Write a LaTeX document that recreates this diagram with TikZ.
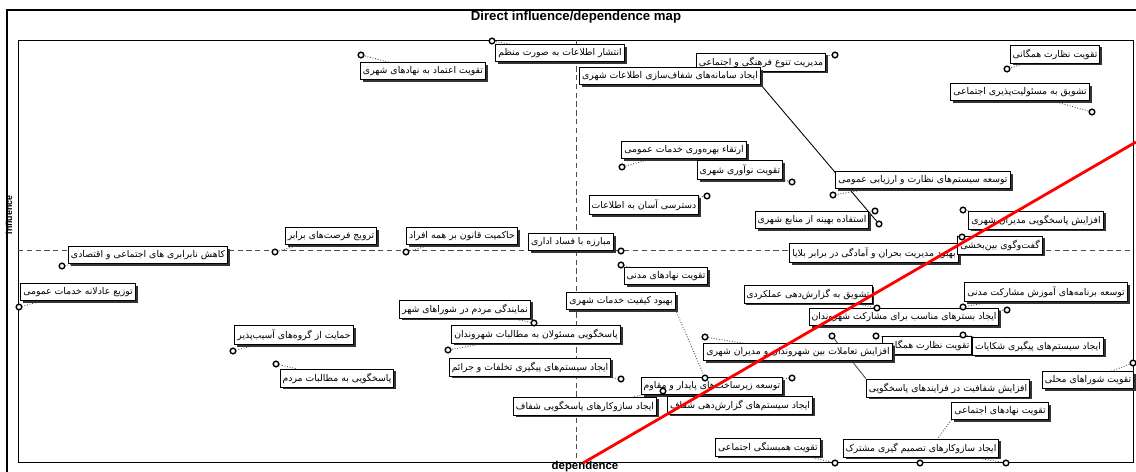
\documentclass[tikz,border=0pt]{standalone}
\usepackage{fontspec}
\setmainfont{Liberation Sans}
\newfontfamily\farsi[Script=Arabic]{DejaVu Sans}
\TeXXeTstate=1
\usetikzlibrary{shadows, backgrounds}

\tikzset{
  item/.style={draw, fill=white, line width=0.55pt, inner xsep=1.4pt, inner ysep=2.1pt,
    font=\farsi\fontsize{5.3}{6}\selectfont,
    drop shadow={shadow xshift=1.4pt, shadow yshift=-1.4pt, fill=black!80, opacity=1},
    execute at begin node=\beginR, execute at end node=\endR},
  pt/.style={circle, draw, line width=0.8pt, fill=white, inner sep=0pt, minimum size=3.2pt},
  link/.style={gray!60!black, densely dotted, line width=0.5pt},
  axis/.style={densely dashed, line width=0.35pt, gray!60!black},
  diag/.style={red, line width=1.6pt}
}

\begin{document}
\begin{tikzpicture}[x=0.02cm, y=-0.02cm]
\useasboundingbox (0,0) rectangle (1136,472);

% frame and axes
\draw[line width=1.2pt] (7,472) -- (7,10) -- (1136,10);
\draw[line width=0.5pt] (18,40) rectangle (1133,462);
\draw[axis] (576,40) -- (576,462);
\draw[axis] (18,250) -- (1133,250);

\node[font=\bfseries\fontsize{7.5}{9}\selectfont] (title) at (576,17) {Direct influence/dependence map};
\node[font=\bfseries\fontsize{6.5}{8}\selectfont] (xlab) at (585,467) {dependence};
\node[rotate=90, font=\bfseries\fontsize{5}{6}\selectfont] (ylab) at (9,215) {influence};

% variables
\node[item] (b1) at (560,53) {انتشار اطلاعات به صورت منظم};
\node[item] (b2) at (423,71) {تقویت اعتماد به نهادهای شهری};
\node[item] (b3) at (761,62) {مدیریت تنوع فرهنگی و اجتماعی};
\node[item] (b4) at (670,76) {ایجاد سامانه^^^^200cهای شفاف^^^^200cسازی اطلاعات شهری};
\node[item] (b5) at (1055,54) {تقویت نظارت همگانی};
\node[item] (b6) at (1020,92) {تشویق به مسئولیت^^^^200cپذیری اجتماعی};
\node[item] (b7) at (684,150) {ارتقاء بهره^^^^200cوری خدمات عمومی};
\node[item] (b8) at (740,170) {تقویت نوآوری شهری};
\node[item] (b9) at (644,205) {دسترسی آسان به اطلاعات};
\node[item] (b10) at (923,180) {توسعه سیستم^^^^200cهای نظارت و ارزیابی عمومی};
\node[item] (b11) at (812,220) {استفاده بهینه از منابع شهری};
\node[item] (b12) at (1036,220) {افزایش پاسخگویی مدیران شهری};
\node[item] (b14) at (874,253) {بهبود مدیریت بحران و آمادگی در برابر بلایا};
\node[item] (b13) at (1000,245) {گفت^^^^200cوگوی بین^^^^200cبخشی};
\node[item] (b15) at (462,236) {حاکمیت قانون بر همه افراد};
\node[item] (b16) at (571,242) {مبارزه با فساد اداری};
\node[item] (b17) at (331,236) {ترویج فرصت^^^^200cهای برابر};
\node[item] (b18) at (148,255) {کاهش نابرابری های اجتماعی و اقتصادی};
\node[item] (b19) at (78,292) {توزیع عادلانه خدمات عمومی};
\node[item] (b20) at (666,276) {تقویت نهادهای مدنی};
\node[item] (b21) at (621,301) {بهبود کیفیت خدمات شهری};
\node[item] (b22) at (465,309) {نمایندگی مردم در شوراهای شهر};
\node[item] (b23) at (536,334) {پاسخگویی مسئولان به مطالبات شهروندان};
\node[item] (b24) at (530,367) {ایجاد سیستم^^^^200cهای پیگیری تخلفات و جرائم};
\node[item] (b25) at (712,386) {توسعه زیرساخت^^^^200cهای پایدار و مقاوم};
\node[item] (b26) at (740,405) {ایجاد سیستم^^^^200cهای گزارش^^^^200cدهی شفاف};
\node[item] (b27) at (585,406) {ایجاد سازوکارهای پاسخگویی شفاف};
\node[item] (b28) at (294,335) {حمایت از گروه^^^^200cهای آسیب^^^^200cپذیر};
\node[item] (b29) at (337,378) {پاسخگویی به مطالبات مردم};
\node[item] (b30) at (768,447) {تقویت همبستگی اجتماعی};
\node[item] (b31) at (921,448) {ایجاد سازوکارهای تصمیم گیری مشترک};
\node[item] (b32) at (1000,411) {تقویت نهادهای اجتماعی};
\node[item] (b33) at (948,388) {افزایش شفافیت در فرایندهای پاسخگویی};
\node[item] (b35) at (927,345) {تقویت نظارت همگانی};
\node[item] (b34) at (798,352) {افزایش تعاملات بین شهروندان و مدیران شهری};
\node[item] (b36) at (1038,346) {ایجاد سیستم^^^^200cهای پیگیری شکایات};
\node[item] (b37) at (1088,380) {تقویت شوراهای محلی};
\node[item] (b38) at (808,294) {تشویق به گزارش^^^^200cدهی عملکردی};
\node[item] (b39) at (904,317) {ایجاد بسترهای مناسب برای مشارکت شهروندان};
\node[item] (b40) at (1046,292) {توسعه برنامه^^^^200cهای آموزش مشارکت مدنی};

% points
\node[pt] (p1) at (492,41) {};
\node[pt] (p2) at (361,55) {};
\node[pt] (p3) at (835,55) {};
\node[pt] (p4) at (879,224) {};
\node[pt] (p5) at (1007,69) {};
\node[pt] (p6) at (1092,112) {};
\node[pt] (p7) at (622,167) {};
\node[pt] (p8) at (792,182) {};
\node[pt] (p9) at (707,196) {};
\node[pt] (p10) at (833,195) {};
\node[pt] (p11) at (875,211) {};
\node[pt] (p12) at (963,210) {};
\node[pt] (p13) at (962,237) {};
\node[pt] (p15) at (406,252) {};
\node[pt] (p16) at (621,251) {};
\node[pt] (p17) at (275,252) {};
\node[pt] (p18) at (62,266) {};
\node[pt] (p19) at (19,307) {};
\node[pt] (p20) at (621,265) {};
\node[pt] (p21) at (705,378) {};
\node[pt] (p22) at (534,323) {};
\node[pt] (p23) at (448,350) {};
\node[pt] (p24) at (621,379) {};
\node[pt] (p25) at (792,378) {};
\node[pt] (p27) at (663,391) {};
\node[pt] (p28) at (233,351) {};
\node[pt] (p29) at (276,364) {};
\node[pt] (p30) at (835,463) {};
\node[pt] (p31) at (1006,463) {};
\node[pt] (p32) at (920,463) {};
\node[pt] (p33) at (832,336) {};
\node[pt] (p34) at (705,337) {};
\node[pt] (p35) at (876,336) {};
\node[pt] (p36) at (963,335) {};
\node[pt] (p37) at (1133,363) {};
\node[pt] (p38) at (877,308) {};
\node[pt] (p39) at (1007,310) {};
\node[pt] (p40) at (963,307) {};

% links behind the boxes
\begin{pgfonlayer}{background}
\foreach \i in {1,2,3,5,6,7,8,9,10,11,12,13,15,16,17,18,19,20,22,23,24,25,27,28,29,30,31,34,35,36,37,38,39,40}
  \draw[link] (b\i) -- (p\i);
\draw[link, solid, black] (b4.south east) -- (p4);
\draw[link] (b21.south east) -- (p21);
\draw[link] (b32.south west) -- (p32);
\draw[link, solid] (b33.north west) -- (p33);
\end{pgfonlayer}

% diagonal
\coordinate (r0) at (583,463);
\coordinate (r1) at (1136,142);
\draw[diag] (r0) -- (r1);

\end{tikzpicture}
\end{document}
